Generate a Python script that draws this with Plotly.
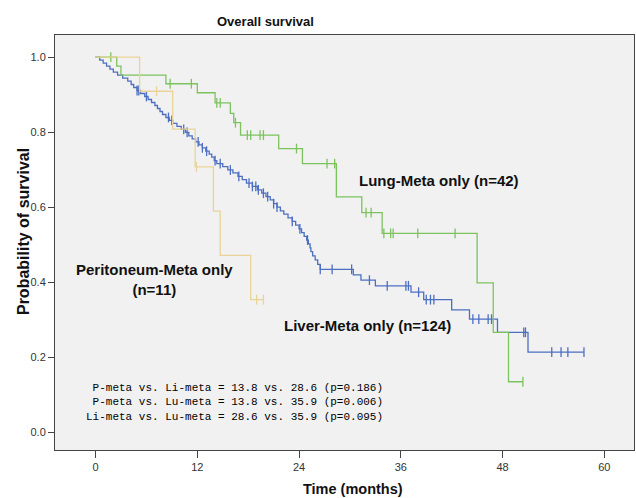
import plotly.graph_objects as go

# ---------------- data ----------------
# Liver-Meta only (n=124)
liver_times = [0.5, 0.9, 1.3, 1.7, 2.1, 2.6, 3.2, 3.8, 4.2, 4.5, 4.9, 5.3, 5.8, 6.2, 6.6,
               7.0, 7.3, 7.6, 7.9, 8.3, 8.7, 9.1, 9.6, 10.1, 10.6, 11.0, 11.4, 11.8, 12.2,
               12.6, 13.0, 13.4, 13.7, 14.0, 14.3, 15.0, 15.6, 16.2, 16.8, 17.3, 17.8, 18.5,
               19.1, 19.6, 20.1, 20.6, 21.0, 21.4, 21.8, 22.2, 22.7, 23.2, 23.6, 24.0, 24.3,
               24.6, 24.9, 25.1, 25.3, 25.4, 25.6, 25.9, 26.2, 26.5, 30.4, 31.3, 33.0, 37.2,
               38.7, 42.0, 44.1, 47.4, 51.0]
liver_surv = [0.992, 0.984, 0.976, 0.968, 0.960, 0.952, 0.944, 0.936, 0.927, 0.919, 0.911,
              0.903, 0.895, 0.887, 0.879, 0.871, 0.863, 0.855, 0.847, 0.839, 0.831, 0.823,
              0.815, 0.807, 0.799, 0.790, 0.782, 0.774, 0.766, 0.758, 0.749, 0.741, 0.733,
              0.724, 0.716, 0.708, 0.699, 0.691, 0.682, 0.673, 0.664, 0.655, 0.646, 0.637,
              0.628, 0.619, 0.609, 0.600, 0.590, 0.581, 0.571, 0.562, 0.552, 0.542, 0.532,
              0.522, 0.512, 0.502, 0.491, 0.481, 0.470, 0.459, 0.447, 0.434, 0.419, 0.405,
              0.390, 0.373, 0.353, 0.326, 0.301, 0.266, 0.213]
liver_end = 57.6
liver_censor = [4.9, 5.1, 6.0, 8.6, 9.0, 10.4, 10.8, 12.1, 12.6, 13.1, 14.1, 14.7, 15.9,
                16.9, 18.1, 18.5, 18.9, 19.2, 19.8, 20.3, 21.0, 21.4, 23.2, 24.1, 25.0, 26.5,
                27.9, 30.2, 32.3, 34.4, 36.6, 36.9, 38.1, 39.0, 39.5, 39.9, 44.5, 45.2, 46.3,
                46.7, 50.5, 50.7, 53.8, 54.9, 55.7, 57.6]

# Lung-Meta only (n=42)
lung_times = [2.5, 3.0, 8.3, 12.0, 14.1, 15.9, 16.3, 17.1, 21.6, 24.4, 28.4, 31.4, 33.8,
              45.0, 46.9, 48.7]
lung_surv = [0.976, 0.952, 0.929, 0.905, 0.878, 0.850, 0.825, 0.792, 0.756, 0.716, 0.627,
             0.585, 0.530, 0.398, 0.266, 0.134]
lung_end = 50.4
lung_censor = [1.8, 8.8, 11.3, 14.3, 14.7, 16.5, 17.9, 18.3, 19.4, 19.8, 23.7, 27.3, 28.2,
               31.9, 32.5, 34.0, 34.8, 35.1, 38.0, 42.4, 50.4]

# Peritoneum-Meta only (n=11)
peri_times = [5.2, 9.1, 11.75, 13.9, 14.7, 18.3]
peri_surv = [0.909, 0.808, 0.707, 0.589, 0.471, 0.353]
peri_end = 19.8
peri_censor = [7.2, 11.9, 19.0, 19.8]

x_ticks = [0, 12, 24, 36, 48, 60]
y_ticks = [0.0, 0.2, 0.4, 0.6, 0.8, 1.0]
y_tick_labels = ["0.0", "0.2", "0.4", "0.6", "0.8", "1.0"]

stats_lines = [
    "P-meta vs. Li-meta = 13.8 vs. 28.6 (p=0.186)",
    "P-meta vs. Lu-meta = 13.8 vs. 35.9 (p=0.006)",
    "Li-meta vs. Lu-meta = 28.6 vs. 35.9 (p=0.095)",
]

BLUE = "#4d6fc2"
GREEN = "#7cc35e"
TAN = "#e9d398"


def step_xy(times, surv, end):
    xs = [0.0] + list(times) + [end]
    ys = [1.0] + list(surv) + [surv[-1]]
    return xs, ys


def surv_at(times, surv, t):
    s = 1.0
    for ti, si in zip(times, surv):
        if ti <= t:
            s = si
    return s


fig = go.Figure()

for times, surv, end, cens, col in [
    (liver_times, liver_surv, liver_end, liver_censor, BLUE),
    (lung_times, lung_surv, lung_end, lung_censor, GREEN),
    (peri_times, peri_surv, peri_end, peri_censor, TAN),
]:
    xs, ys = step_xy(times, surv, end)
    fig.add_trace(go.Scatter(x=xs, y=ys, mode="lines", line=dict(color=col, width=1.3, shape="hv"),
                             showlegend=False, hoverinfo="skip"))
    fig.add_trace(go.Scatter(x=cens, y=[surv_at(times, surv, t) for t in cens], mode="markers",
                             marker=dict(symbol="line-ns-open", size=7, color=col,
                                         line=dict(color=col, width=1.3)),
                             showlegend=False, hoverinfo="skip"))

SANS = "Liberation Sans, Arial, sans-serif"
label_font = dict(family=SANS, size=15, color="#111111")

annotations = [
    dict(text="<b>Overall survival</b>", xref="paper", yref="paper", x=0.363, y=1.032,
         showarrow=False, xanchor="center", yanchor="middle",
         font=dict(family=SANS, size=13, color="#111111")),
    dict(text="<b>Probability of survival</b>", xref="paper", yref="paper", x=-0.054, y=0.527,
         textangle=-90, showarrow=False, xanchor="center", yanchor="middle",
         font=dict(family=SANS, size=16, color="#111111")),
    dict(text="<b>Time (months)</b>", xref="paper", yref="paper", x=0.515, y=-0.094,
         showarrow=False, xanchor="center", yanchor="middle",
         font=dict(family=SANS, size=14.5, color="#111111")),
    dict(text="<b>Lung-Meta only (n=42)</b>", xref="x", yref="y", x=40.5, y=0.67,
         showarrow=False, xanchor="center", yanchor="middle", font=label_font),
    dict(text="<b>Liver-Meta only (n=124)</b>", xref="x", yref="y", x=32.1, y=0.283,
         showarrow=False, xanchor="center", yanchor="middle", font=label_font),
    dict(text="<b>Peritoneum-Meta only<br>(n=11)</b>", xref="x", yref="y", x=7.0, y=0.406,
         showarrow=False, xanchor="center", yanchor="middle", align="center", font=label_font),
    dict(text="<br>".join(stats_lines), xref="x", yref="y", x=34.1, y=0.078,
         showarrow=False, xanchor="right", yanchor="middle", align="right",
         font=dict(family="Liberation Mono, monospace", size=11, color="#000000")),
]

fig.update_layout(
    width=636, height=498,
    margin=dict(l=55, r=2, t=35, b=48),
    paper_bgcolor="white",
    plot_bgcolor="#f1f1f1",
    annotations=annotations,
    xaxis=dict(range=[-4.78, 63.5], tickvals=x_ticks, showgrid=False, zeroline=False,
               showline=True, linecolor="#444444", linewidth=1, mirror=True,
               ticks="outside", ticklen=7, tickcolor="#444444",
               tickfont=dict(family=SANS, size=11, color="#333333")),
    yaxis=dict(range=[-0.048, 1.059], tickvals=y_ticks, ticktext=y_tick_labels, showgrid=False,
               zeroline=False, showline=True, linecolor="#444444", linewidth=1, mirror=True,
               ticks="outside", ticklen=6, tickcolor="#444444",
               tickfont=dict(family=SANS, size=11, color="#333333")),
)

fig.write_html("out.html", config={"displayModeBar": False},
               post_script="document.body.style.margin='0';document.body.style.overflow='hidden';")
